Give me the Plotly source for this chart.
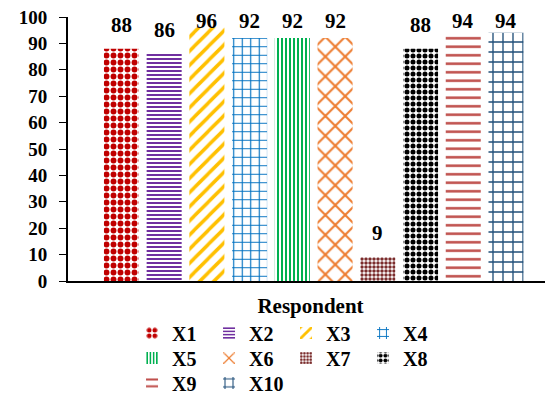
import plotly.graph_objects as go

names = ["X1", "X2", "X3", "X4", "X5", "X6", "X7", "X8", "X9", "X10"]
positions = [1, 2, 3, 4, 5, 6, 7, 8, 9, 10]
values = [88, 86, 96, 92, 92, 92, 9, 88, 94, 94]
colors = ["#C00000", "#7030A0", "#FFC000", "#0070C0", "#00B050",
          "#ED7D31", "#7B2C2C", "#000000", "#C0504D", "#1F4E79"]
shapes = [".", "-", "/", "+", "|", "x", ".", ".", "-", "+"]
sizes = [7, 4, 10, 8.5, 4, 14, 4, 6, 8.5, 10]
solid = [0.55, 0.5, 0.35, 0.25, 0.5, 0.28, 0.6, 0.55, 0.3, 0.25]
legend_rows = ["legend", "legend", "legend", "legend",
               "legend2", "legend2", "legend2", "legend2",
               "legend3", "legend3"]

font_family = "Liberation Serif"
# data labels sit above each bar, kept inside the plot area (like Excel does)
LABEL_GAP = 3.8      # in axis units
LABEL_CAP = 93.0     # highest label anchor, in axis units

fig = go.Figure()
for n, p, v, c, s, sz, so, lg in zip(names, positions, values, colors, shapes,
                                      sizes, solid, legend_rows):
    fig.add_trace(go.Bar(
        x=[p], y=[v], name="<b>" + n + "</b>", width=0.82, legend=lg,
        marker=dict(color="white", line=dict(width=0),
                    pattern=dict(shape=s, fgcolor=c, bgcolor="white", size=sz,
                                 solidity=so, fillmode="replace")),
    ))
    fig.add_annotation(
        x=p, y=min(v + LABEL_GAP, LABEL_CAP), xref="x", yref="y",
        text="<b>" + str(v) + "</b>", showarrow=False,
        xanchor="center", yanchor="bottom",
        font=dict(family=font_family, size=21, color="black"),
    )

legend_font = dict(family=font_family, size=20, color="black")
legend_common = dict(orientation="h", x=0.132, xanchor="left", yanchor="middle",
                     entrywidth=32, entrywidthmode="pixels", traceorder="normal",
                     font=legend_font, bgcolor="rgba(0,0,0,0)")

fig.update_layout(
    width=553, height=394,
    margin=dict(l=60, r=8, t=9, b=121, autoexpand=False),
    paper_bgcolor="white", plot_bgcolor="white",
    barmode="overlay",
    font=dict(family=font_family, color="black"),
    showlegend=True,
    legend=dict(y=-0.197, **legend_common),
    legend2=dict(y=-0.292, **legend_common),
    legend3=dict(y=-0.386, **legend_common),
    xaxis=dict(range=[-0.25, 11.1], showticklabels=False, showgrid=False,
               zeroline=False, showline=True, linecolor="black", linewidth=2,
               ticks="",
               title=dict(text="<b>Respondent</b>", standoff=16,
                          font=dict(family=font_family, size=21, color="black"))),
    yaxis=dict(range=[0, 100], dtick=10, showgrid=False, zeroline=False,
               showline=True, linecolor="black", linewidth=2,
               ticks="outside", ticklen=7, tickcolor="black", tickwidth=1,
               ticklabelstandoff=8, ticklabeloverflow="allow",
               tickprefix="<b>", ticksuffix="</b>",
               tickfont=dict(family=font_family, size=19, color="black")),
)

fig.write_html("out.html")
